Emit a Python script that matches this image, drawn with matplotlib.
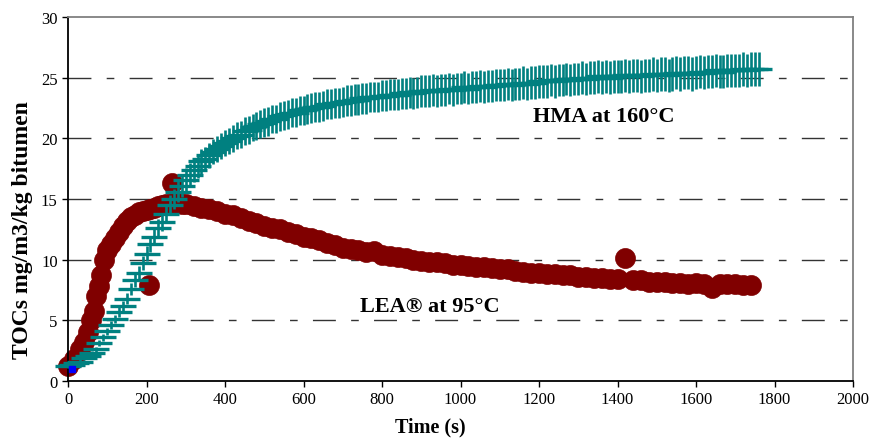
import numpy as np
import matplotlib
matplotlib.use("Agg")
import matplotlib.pyplot as plt

plt.rcParams['font.family'] = ['Liberation Serif', 'DejaVu Serif']

# HMA at 160 C, sampled every 10 s
hma_t = np.arange(0, 1770, 10)
hma_v = [1.2, 1.3, 1.5, 1.6, 1.9, 2.1, 2.3, 2.6, 3.1, 3.6, 4.1,
         4.6, 5.1, 5.7, 6.2, 6.8, 7.6, 8.3, 8.9, 9.7, 10.5,
         11.3, 11.9, 12.6, 13.1, 13.8, 14.5, 15.0, 15.6, 16.1, 16.6,
         17.0, 17.4, 17.7, 18.1, 18.3, 18.6, 18.9, 19.1, 19.4, 19.6,
         19.8, 20.0, 20.2, 20.3, 20.6, 20.7, 20.9, 21.0, 21.2, 21.3,
         21.4, 21.6, 21.6, 21.8, 21.9, 22.0, 22.1, 22.1, 22.3, 22.3,
         22.4, 22.5, 22.6, 22.6, 22.7, 22.8, 22.8, 22.9, 22.9, 23.0,
         23.1, 23.1, 23.2, 23.2, 23.3, 23.3, 23.4, 23.4, 23.4, 23.5,
         23.5, 23.6, 23.6, 23.6, 23.7, 23.7, 23.8, 23.7, 23.8, 23.9,
         23.9, 23.9, 24.0, 23.9, 24.0, 24.0, 24.1, 24.0, 24.1, 24.1,
         24.2, 24.1, 24.2, 24.2, 24.3, 24.2, 24.3, 24.3, 24.4, 24.4,
         24.4, 24.5, 24.4, 24.5, 24.5, 24.6, 24.5, 24.6, 24.6, 24.7,
         24.7, 24.7, 24.8, 24.7, 24.8, 24.8, 24.9, 24.8, 24.9, 24.9,
         25.0, 24.9, 25.0, 25.0, 25.1, 25.0, 25.1, 25.0, 25.1, 25.1,
         25.1, 25.2, 25.1, 25.2, 25.2, 25.1, 25.2, 25.2, 25.3, 25.2,
         25.3, 25.3, 25.2, 25.3, 25.4, 25.3, 25.4, 25.4, 25.3, 25.4,
         25.5, 25.4, 25.5, 25.5, 25.6, 25.5, 25.5, 25.6, 25.6, 25.6,
         25.6, 25.7, 25.6, 25.7, 25.7, 25.7]

# LEA at 95 C
lea_t = [0, 15, 30, 40, 50, 58, 65, 72, 78, 85, 92, 100, 110, 120, 130,
         140, 150, 160, 170, 180, 190, 200, 205, 210, 220, 230, 240, 250,
         260, 265, 270, 280, 290] + list(range(300, 1760, 20))
lea_v = [1.2, 1.8, 2.6, 3.2, 4.0, 5.0, 5.8, 7.0, 7.8, 8.7, 10.0, 10.8, 11.3, 11.8, 12.3,
         12.8, 13.2, 13.5, 13.7, 13.9, 14.0, 14.1, 7.9, 14.2, 14.3, 14.4, 14.5, 14.6,
         14.6, 16.3, 14.7, 14.7, 14.6,
         14.6, 14.4, 14.3, 14.2, 14.0, 13.8, 13.7, 13.4, 13.2, 13.0,
         12.8, 12.6, 12.5, 12.3, 12.1, 11.9, 11.8, 11.6, 11.4, 11.2,
         11.0, 10.9, 10.8, 10.6, 10.7, 10.4, 10.3, 10.2, 10.1, 10.0,
         9.9, 9.8, 9.8, 9.7, 9.6, 9.6, 9.5, 9.4, 9.4, 9.3,
         9.2, 9.2, 9.1, 9.0, 8.9, 8.9, 8.8, 8.8, 8.7, 8.7,
         8.6, 8.6, 8.5, 8.5, 8.4, 8.4, 10.1, 8.3, 8.3, 8.2,
         8.2, 8.2, 8.1, 8.1, 8.0, 8.1, 8.0, 7.7, 8.0, 8.0,
         8.0, 7.9, 7.9]

blue_t = [9]
blue_v = [1.0]

teal = '#008080'
maroon = '#800000'

fig = plt.figure(figsize=(8.69, 4.39), dpi=100)
ax = fig.add_axes([0.0783, 0.1298, 0.9033, 0.8292])

ax.plot(lea_t, lea_v, 'o', color=maroon, ms=14.4, mec=maroon, mew=0.5,
        zorder=2, clip_on=False)

hma_err = 0.05 * np.array(hma_v) + 0.1
ax.errorbar(hma_t, hma_v, yerr=hma_err, fmt='_', color=teal, ecolor=teal,
            ms=18.5, mew=2.4, elinewidth=1.9, capsize=0, zorder=3, clip_on=False)

ax.plot(blue_t, blue_v, 's', color='#0000ff', ms=5, zorder=4, clip_on=False)

ax.set_xlim(0, 2000)
ax.set_ylim(0, 30)
ax.set_xticks(range(0, 2001, 200))
ax.set_yticks(range(0, 31, 5))
ax.tick_params(direction='out', length=4, width=1, labelsize=12, color='black')

for y in range(5, 30, 5):
    ax.axhline(y, color='#333333', lw=1.0, dashes=(16.5, 11, 5.5, 11), zorder=1)

for s in ['left', 'bottom']:
    ax.spines[s].set_color('black')
    ax.spines[s].set_linewidth(1.3)
for s in ['top', 'right']:
    ax.spines[s].set_color('#808080')
    ax.spines[s].set_linewidth(1.3)

ax.set_xlabel('Time (s)', fontsize=14.5, fontweight='bold')
ax.set_ylabel('TOCs mg/m3/kg bitumen', fontsize=17, fontweight='bold')
ax.xaxis.set_label_coords(0.461, -0.097)
ax.yaxis.set_label_coords(-0.045, 0.418)

ax.text(1185, 21.4, 'HMA at 160°C', fontsize=16, fontweight='bold', ha='left', va='baseline')
ax.text(744, 5.8, 'LEA® at 95°C', fontsize=16, fontweight='bold', ha='left', va='baseline')

fig.savefig('out.png', dpi=100)
